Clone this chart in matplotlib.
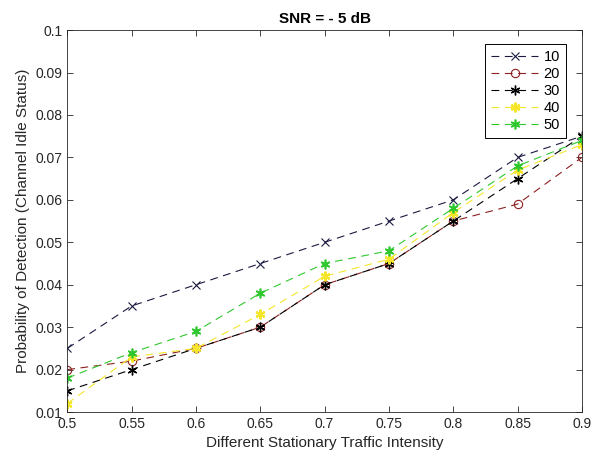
import numpy as np
import matplotlib.pyplot as plt

plt.rcParams['font.family'] = ['Liberation Sans', 'DejaVu Sans']

# traffic intensity and detection probability per series
intensity = [0.5, 0.55, 0.6, 0.65, 0.7, 0.75, 0.8, 0.85, 0.9]
pd_10 = [0.025, 0.035, 0.040, 0.045, 0.050, 0.055, 0.060, 0.070, 0.075]
pd_20 = [0.020, 0.022, 0.025, 0.030, 0.040, 0.045, 0.055, 0.059, 0.070]
pd_30 = [0.015, 0.020, 0.025, 0.030, 0.040, 0.045, 0.055, 0.065, 0.075]
pd_40 = [0.012, 0.023, 0.025, 0.033, 0.042, 0.046, 0.057, 0.067, 0.073]
pd_50 = [0.018, 0.024, 0.029, 0.038, 0.045, 0.048, 0.058, 0.068, 0.074]
labels = ['10', '20', '30', '40', '50']

fig = plt.figure(figsize=(5.95, 4.63), dpi=100)
ax = fig.add_axes([0.113, 0.110, 0.865, 0.825])

dash = (0, (7, 5))
star = (6, 2, 0)  # line asterisk
ax.plot(intensity, pd_10, color='#1a1a40', ls=dash, lw=0.8, marker='x', ms=6,
        mew=0.8, label=labels[0])
ax.plot(intensity, pd_20, color='#8b2020', ls=dash, lw=0.8, marker='o', ms=6,
        mfc='none', mew=0.8, label=labels[1])
ax.plot(intensity, pd_30, color='black', ls=dash, lw=0.8, marker=star, ms=7,
        mew=1.0, label=labels[2])
ax.plot(intensity, pd_40, color='#f5e62a', ls=dash, lw=0.8, marker=star, ms=7,
        mew=1.6, label=labels[3])
ax.plot(intensity, pd_50, color='#2ec82e', ls=dash, lw=0.8, marker=star, ms=7,
        mew=1.2, label=labels[4])

ax.set_xlim(0.5, 0.9)
ax.set_ylim(0.01, 0.1)
ax.set_xticks(np.arange(0.5, 0.901, 0.05))
ax.set_xticklabels(['0.5', '0.55', '0.6', '0.65', '0.7', '0.75', '0.8', '0.85', '0.9'])
ax.set_yticks(np.arange(0.01, 0.1001, 0.01))
ax.set_yticklabels(['0.01', '0.02', '0.03', '0.04', '0.05', '0.06', '0.07',
                    '0.08', '0.09', '0.1'])
ax.tick_params(direction='in', top=True, right=True, labelsize=10, length=4,
               width=0.6, colors='#262626')
for s in ax.spines.values():
    s.set_linewidth(0.6)
    s.set_color('#262626')

ax.set_xlabel('Different Stationary Traffic Intensity', fontsize=11, color='#262626')
ax.set_ylabel('Probability of Detection (Channel Idle Status)', fontsize=11,
              color='#262626')
ax.set_title('SNR = - 5 dB', fontsize=11, fontweight='bold', pad=5)

leg = ax.legend(loc='upper right', bbox_to_anchor=(0.969, 0.963), fontsize=10.5,
                handlelength=3.2, handletextpad=0.4, fancybox=False,
                framealpha=1, borderaxespad=0, labelspacing=0.2, borderpad=0.4)
leg.get_frame().set_edgecolor('black')
leg.get_frame().set_linewidth(0.7)

fig.savefig('out.png', dpi=100)
